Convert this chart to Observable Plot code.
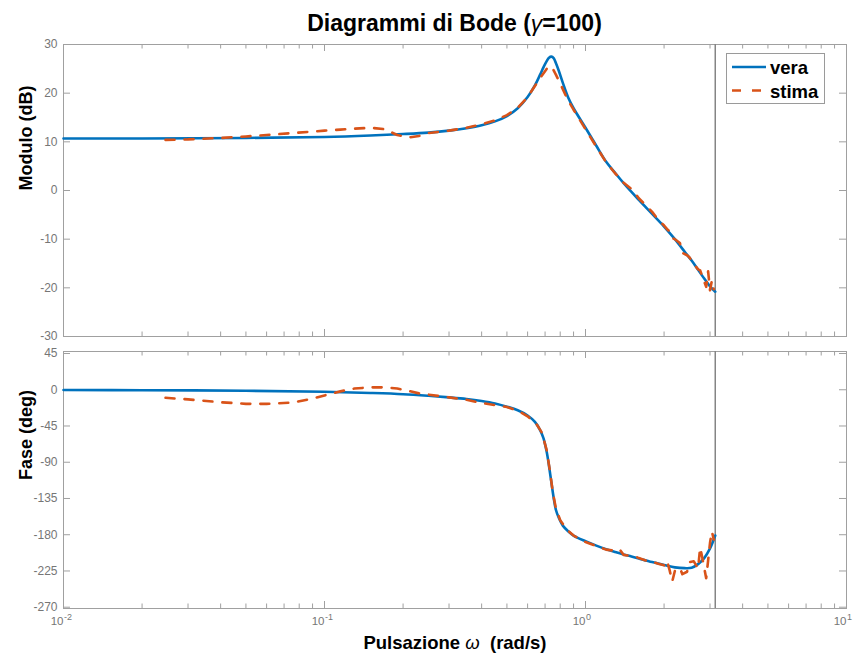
<!DOCTYPE html>
<html>
<head>
<meta charset="utf-8">
<script src="https://cdn.jsdelivr.net/npm/d3@7"></script>
<script src="https://cdn.jsdelivr.net/npm/@observablehq/plot@0.6"></script>
<style>
  html, body { margin: 0; padding: 0; background: #fff; }
  #chart { position: relative; width: 856px; height: 656px; background: #fff;
           font-family: "Liberation Sans", Arial, Helvetica, sans-serif; }
  #chart > svg { position: absolute; left: 0; }
</style>
</head>
<body>
<div id="chart"></div>
<script>
// ---------- data ----------
const xMajorTicks = [0.01, 0.1, 1, 10];
const xMinorTicks = [0.02,0.03,0.04,0.05,0.06,0.07,0.08,0.09,
                     0.2,0.3,0.4,0.5,0.6,0.7,0.8,0.9,
                     2,3,4,5,6,7,8,9];
const magTicks = [-30, -20, -10, 0, 10, 20, 30];
const phaseTicks = [45, 0, -45, -90, -135, -180, -225, -270];
const nyquist = [Math.PI];

// true system ("vera")
const trueW = [0.01,0.02,0.05,0.1,0.15,0.2,0.25,0.3,0.35,0.4,0.45,0.5,0.55,0.6,0.64,0.67,0.69,0.71,0.725,0.74,0.755,0.77,0.79,0.82,0.86,0.9,1.0,1.1,1.2,1.3,1.4,1.5,1.6,1.8,2.0,2.2,2.4,2.55,2.7,2.85,3.0,3.1416];
const trueMag = [10.7,10.7,10.8,11.0,11.3,11.6,11.9,12.3,12.8,13.4,14.2,15.3,16.9,19.2,21.6,23.8,25.3,26.6,27.3,27.5,27.2,26.2,24.6,22.0,19.0,16.9,12.9,9.2,5.9,3.6,1.5,-0.3,-1.9,-4.8,-7.4,-10.0,-12.6,-14.4,-16.3,-18.1,-19.7,-20.8];
const truePhase = [-0.3,-0.6,-1.2,-2.5,-4,-5.5,-7.5,-9.5,-11.5,-14,-17,-21,-25.5,-32,-40,-50,-60,-77,-95,-115,-134,-149,-159,-169,-176,-181,-188,-193.5,-198,-201.5,-204.5,-207,-209.5,-214,-217.5,-220.5,-221.5,-221,-216.5,-209,-197,-181];

// estimate ("stima")
const estW = [0.0246,0.03,0.04,0.05,0.06,0.075,0.09,0.1,0.115,0.13,0.15,0.17,0.19,0.21,0.23,0.25,0.3,0.35,0.4,0.45,0.5,0.55,0.6,0.65,0.68,0.71,0.73,0.75,0.77,0.8,0.85,0.9,1.0,1.1,1.2,1.3,1.35,1.4,1.5,1.55,1.6,1.7,1.8,1.9,2.0,2.05,2.1,2.15,2.2,2.3,2.35,2.45,2.5,2.6,2.7,2.75,2.8,2.9,2.95,3.0,3.05,3.1];
const estMag = [10.4,10.5,10.8,11.1,11.4,11.8,12.1,12.3,12.5,12.7,12.9,12.6,11.4,10.9,11.2,11.8,12.3,12.9,13.6,14.4,15.5,17.0,19.2,22.0,23.6,25.0,25.6,25.0,23.8,22.0,18.9,16.6,12.6,9.0,5.8,3.5,2.6,1.6,0.3,-0.6,-1.6,-3.0,-4.4,-6.0,-7.2,-7.9,-8.4,-9.8,-10.0,-10.8,-12.8,-13.3,-13.7,-15.1,-16.2,-16.4,-17.6,-19.8,-16.6,-20.5,-18.5,-20.3];
const estPhase = [-10,-12,-15.5,-17.5,-17.5,-16,-11,-7,-2,1.5,3,3,1.5,-1.5,-4.5,-6,-9.5,-12.5,-16.5,-19,-21.5,-26,-33,-43,-53,-75,-100,-128,-147,-162,-174,-181,-189,-194,-198.5,-200,-198,-205,-206.5,-207,-209,-212,-213.5,-216,-218,-212,-224,-238,-225,-221,-229,-226,-214,-213,-222,-196,-208,-234,-212,-190,-176,-186];

(function () {
const BLUE = "#0072BD", ORANGE = "#D95319";
const AXIS = "#a0a0a0", LABEL = "#767676";
const FONT = "Liberation Sans, Arial, Helvetica, sans-serif";
const W = 856, ML = 63, MR = 10;

function panel({height, marginTop, marginBottom, yDomain, yTicks, trueY, estY, ylabel, xLabels}) {
  const pw = W - ML - MR, ph = height - marginTop - marginBottom;
  const trueData = trueW.map((w, i) => ({w, v: trueY[i]}));
  const estData = estW.map((w, i) => ({w, v: estY[i]}));
  const marks = [
    Plot.frame({stroke: AXIS, strokeWidth: 1}),
    Plot.ruleX(xMajorTicks, {x: d => d, insetTop: ph - 7, stroke: AXIS}),
    Plot.ruleX(xMinorTicks, {x: d => d, insetTop: ph - 4.5, stroke: AXIS}),
    Plot.ruleX(xMajorTicks, {x: d => d, insetBottom: ph - 7, stroke: AXIS}),
    Plot.ruleX(xMinorTicks, {x: d => d, insetBottom: ph - 4.5, stroke: AXIS}),
    Plot.ruleY(yTicks, {y: d => d, insetRight: pw - 7, stroke: AXIS}),
    Plot.ruleY(yTicks, {y: d => d, insetLeft: pw - 7, stroke: AXIS}),
    Plot.text(yTicks, {y: d => d, frameAnchor: "left", dx: -6, textAnchor: "end",
      text: d => String(d), fill: LABEL, fontSize: 12}),
    Plot.text([ylabel], {frameAnchor: "left", dx: -37, rotate: -90, text: d => d,
      fontWeight: "bold", fontSize: 18, fill: "#000"}),
    Plot.ruleX(nyquist, {x: d => d, stroke: "#858585", strokeWidth: 1.5}),
    Plot.line(trueData, {x: "w", y: "v", stroke: BLUE, strokeWidth: 2.6, curve: "catmull-rom"}),
    Plot.line(estData, {x: "w", y: "v", stroke: ORANGE, strokeWidth: 2.6, strokeDasharray: "9,10"})
  ];
  if (xLabels) {
    marks.push(
      Plot.text(xMajorTicks, {x: d => d, frameAnchor: "bottom", dy: 16, textAnchor: "end",
        text: () => "10", fill: LABEL, fontSize: 11.5}),
      Plot.text(xMajorTicks, {x: d => d, frameAnchor: "bottom", dy: 11, dx: 0.5, textAnchor: "start",
        text: d => String(Math.round(Math.log10(d))), fill: LABEL, fontSize: 9})
    );
  }
  return Plot.plot({
    width: W, height, marginTop, marginBottom, marginLeft: ML, marginRight: MR,
    x: {type: "log", domain: [0.01, 10], axis: null},
    y: {domain: yDomain, axis: null},
    style: {fontFamily: FONT, background: "transparent", overflow: "visible"},
    marks
  });
}

const chart = document.getElementById("chart");
const magPlot = panel({height: 345, marginTop: 44, marginBottom: 9, yDomain: [-30, 30],
  yTicks: magTicks, trueY: trueMag, estY: estMag, ylabel: "Modulo (dB)", xLabels: false});
magPlot.style.top = "0px";
const phasePlot = panel({height: 311, marginTop: 6, marginBottom: 48, yDomain: [-271.6, 47.5],
  yTicks: phaseTicks, trueY: truePhase, estY: estPhase, ylabel: "Fase (deg)", xLabels: true});
phasePlot.style.top = "345px";
chart.appendChild(magPlot);
chart.appendChild(phasePlot);

// overlay: title, x label, legend
const ns = "http://www.w3.org/2000/svg";
const ov = document.createElementNS(ns, "svg");
ov.setAttribute("width", W); ov.setAttribute("height", 656);
ov.style.top = "0px";
ov.style.fontFamily = FONT;
ov.innerHTML = `
  <text x="454.5" y="30.5" text-anchor="middle" font-weight="bold" font-size="23" fill="#000">Diagrammi di Bode (<tspan font-style="italic" font-weight="normal">γ</tspan>=100)</text>
  <text x="455" y="649" text-anchor="middle" font-weight="bold" font-size="18.5" fill="#000" style="white-space:pre">Pulsazione <tspan font-style="italic" font-weight="normal">ω</tspan>  (rad/s)</text>
  <rect x="726.5" y="53.5" width="98" height="50" fill="#fff" stroke="#9a9a9a" stroke-width="1"/>
  <line x1="732" y1="67" x2="766" y2="67" stroke="${BLUE}" stroke-width="2.5"/>
  <line x1="732" y1="90.5" x2="766" y2="90.5" stroke="${ORANGE}" stroke-width="2.5" stroke-dasharray="9,11"/>
  <text x="770" y="73.5" font-weight="bold" font-size="18.5" fill="#000">vera</text>
  <text x="770" y="97.5" font-weight="bold" font-size="18.5" fill="#000">stima</text>
`;
chart.appendChild(ov);
})();
</script>
</body>
</html>
